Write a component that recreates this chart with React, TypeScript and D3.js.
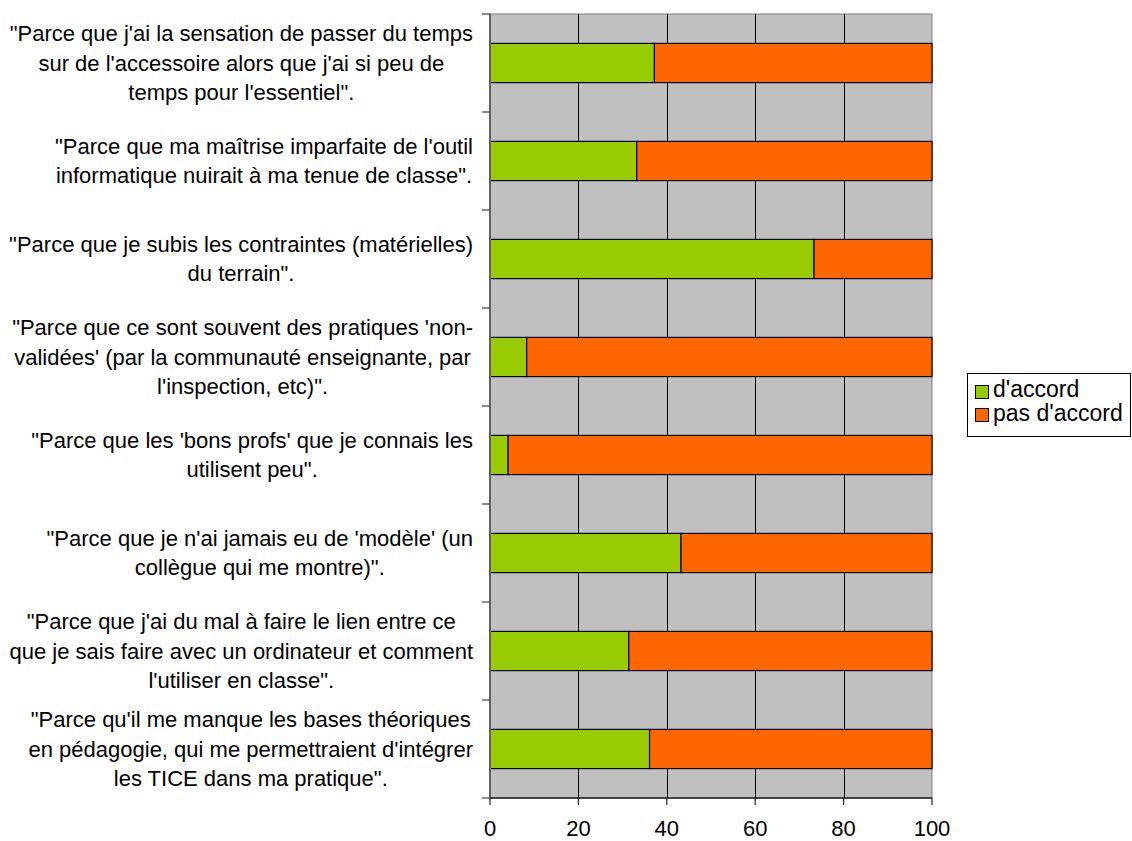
import * as d3 from 'd3';
import { useEffect, useRef } from 'react';

const categories = [
  ['"Parce que j\'ai la sensation de passer du temps', "sur de l'accessoire alors que j'ai si peu de", 'temps pour l\'essentiel".'],
  ['"Parce que ma maîtrise imparfaite de l\'outil', 'informatique nuirait à ma tenue de classe".'],
  ['"Parce que je subis les contraintes (matérielles)', 'du terrain".'],
  ['"Parce que ce sont souvent des pratiques \'non-', "validées' (par la communauté enseignante, par", 'l\'inspection, etc)".'],
  ['"Parce que les \'bons profs\' que je connais les', 'utilisent peu".'],
  ['"Parce que je n\'ai jamais eu de \'modèle\' (un', 'collègue qui me montre)".'],
  ['"Parce que j\'ai du mal à faire le lien entre ce', 'que je sais faire avec un ordinateur et comment', 'l\'utiliser en classe".'],
  ['"Parce qu\'il me manque les bases théoriques', "en pédagogie, qui me permettraient d'intégrer", 'les TICE dans ma pratique".'],
];

const agree = [37.2, 33.2, 73.3, 8.3, 4.1, 43.2, 31.4, 36.1];
const disagree = [62.8, 66.8, 26.7, 91.7, 95.9, 56.8, 68.6, 63.9];

const seriesNames = ["d'accord", "pas d'accord"];
const seriesColors = ['#99CC00', '#FF6600'];
const xTicks = [0, 20, 40, 60, 80, 100];

const App = (): React.ReactElement => {
  const ref: any = useRef();
  const width = 1132;
  const height = 841;
  const left = 490;
  const right = 932;
  const top = 14;
  const bottom = 798;
  const font = '"Liberation Sans", Arial, sans-serif';

  useEffect(() => {
    const svg = d3.select(ref.current);
    svg.selectAll('*').remove();

    const x = d3.scaleLinear().domain([0, 100]).range([left, right]);
    const y = d3
      .scaleBand<number>()
      .domain(d3.range(categories.length))
      .range([top, bottom])
      .paddingInner(0.6)
      .paddingOuter(0.3);

    // plot background
    svg
      .append('rect')
      .attr('x', left)
      .attr('y', top)
      .attr('width', right - left)
      .attr('height', bottom - top)
      .attr('fill', '#C0C0C0')
      .attr('stroke', '#808080')
      .attr('stroke-width', 1);

    // vertical gridlines
    svg
      .append('g')
      .selectAll('line')
      .data(xTicks.slice(1, -1))
      .enter()
      .append('line')
      .attr('x1', (d) => Math.round(x(d)) + 0.5)
      .attr('x2', (d) => Math.round(x(d)) + 0.5)
      .attr('y1', top)
      .attr('y2', bottom)
      .attr('stroke', '#000')
      .attr('stroke-width', 1);

    // stacked bars
    const stackData = categories.map((_, i) => ({ i, a: agree[i], b: disagree[i] }));
    const stack = d3.stack<any>().keys(['a', 'b'])(stackData);
    stack.forEach((layer, k) => {
      svg
        .append('g')
        .selectAll('rect')
        .data(layer)
        .enter()
        .append('rect')
        .attr('x', (d) => x(d[0]))
        .attr('y', (d: any) => y(d.data.i) ?? 0)
        .attr('width', (d) => x(d[1]) - x(d[0]))
        .attr('height', y.bandwidth())
        .attr('fill', seriesColors[k])
        .attr('stroke', '#000')
        .attr('stroke-width', 1.2);
    });

    // left axis
    const step = y.step();
    svg
      .append('line')
      .attr('x1', left)
      .attr('x2', left)
      .attr('y1', top)
      .attr('y2', bottom)
      .attr('stroke', '#606060')
      .attr('stroke-width', 2);
    svg
      .append('g')
      .selectAll('line')
      .data(d3.range(categories.length + 1))
      .enter()
      .append('line')
      .attr('x1', left - 8)
      .attr('x2', left)
      .attr('y1', (d) => top + d * step)
      .attr('y2', (d) => top + d * step)
      .attr('stroke', '#404040')
      .attr('stroke-width', 1.2);

    // bottom axis
    svg
      .append('line')
      .attr('x1', left)
      .attr('x2', right)
      .attr('y1', bottom)
      .attr('y2', bottom)
      .attr('stroke', '#202020')
      .attr('stroke-width', 1.5);
    const bx = svg.append('g');
    bx.selectAll('line')
      .data(xTicks)
      .enter()
      .append('line')
      .attr('x1', (d) => x(d))
      .attr('x2', (d) => x(d))
      .attr('y1', bottom)
      .attr('y2', bottom + 7)
      .attr('stroke', '#202020')
      .attr('stroke-width', 1.2);
    bx.selectAll('text')
      .data(xTicks)
      .enter()
      .append('text')
      .attr('x', (d) => x(d))
      .attr('y', 836)
      .attr('text-anchor', 'middle')
      .attr('font-family', font)
      .attr('font-size', 22)
      .attr('fill', '#000')
      .text((d) => d);

    // category labels, lines centred inside a block right-aligned to the axis
    const lineH = 29.5;
    const labelRight = 473;
    categories.forEach((lines, i) => {
      const g = svg.append('g');
      const cy = (y(i) ?? 0) + y.bandwidth() / 2;
      const texts = g
        .selectAll('text')
        .data(lines)
        .enter()
        .append('text')
        .attr('y', (_, j) => cy + (j - (lines.length - 1) / 2) * lineH + 7.7)
        .attr('text-anchor', 'middle')
        .attr('font-family', font)
        .attr('font-size', 22)
        .attr('fill', '#000')
        .text((d) => d);
      let maxW = 0;
      texts.each(function () {
        maxW = Math.max(maxW, (this as SVGTextElement).getComputedTextLength());
      });
      texts.attr('x', labelRight - maxW / 2);
    });

    // legend
    const lg = svg.append('g');
    lg.append('rect')
      .attr('x', 967.5)
      .attr('y', 373.5)
      .attr('width', 163)
      .attr('height', 63)
      .attr('fill', '#fff')
      .attr('stroke', '#000')
      .attr('stroke-width', 1);
    seriesNames.forEach((name, k) => {
      lg.append('rect')
        .attr('x', 975.5)
        .attr('y', 385.5 + k * 23)
        .attr('width', 13)
        .attr('height', 13)
        .attr('fill', seriesColors[k])
        .attr('stroke', '#000')
        .attr('stroke-width', 1);
      lg.append('text')
        .attr('x', 993)
        .attr('y', 397 + k * 24)
        .attr('font-family', font)
        .attr('font-size', 23)
        .attr('fill', '#000')
        .text(name);
    });
  }, []);

  return (
    <svg
      ref={ref}
      width={width}
      height={height}
      style={{ position: 'absolute', left: 0, top: 0, background: '#fff' }}
    />
  );
};

export default App;
